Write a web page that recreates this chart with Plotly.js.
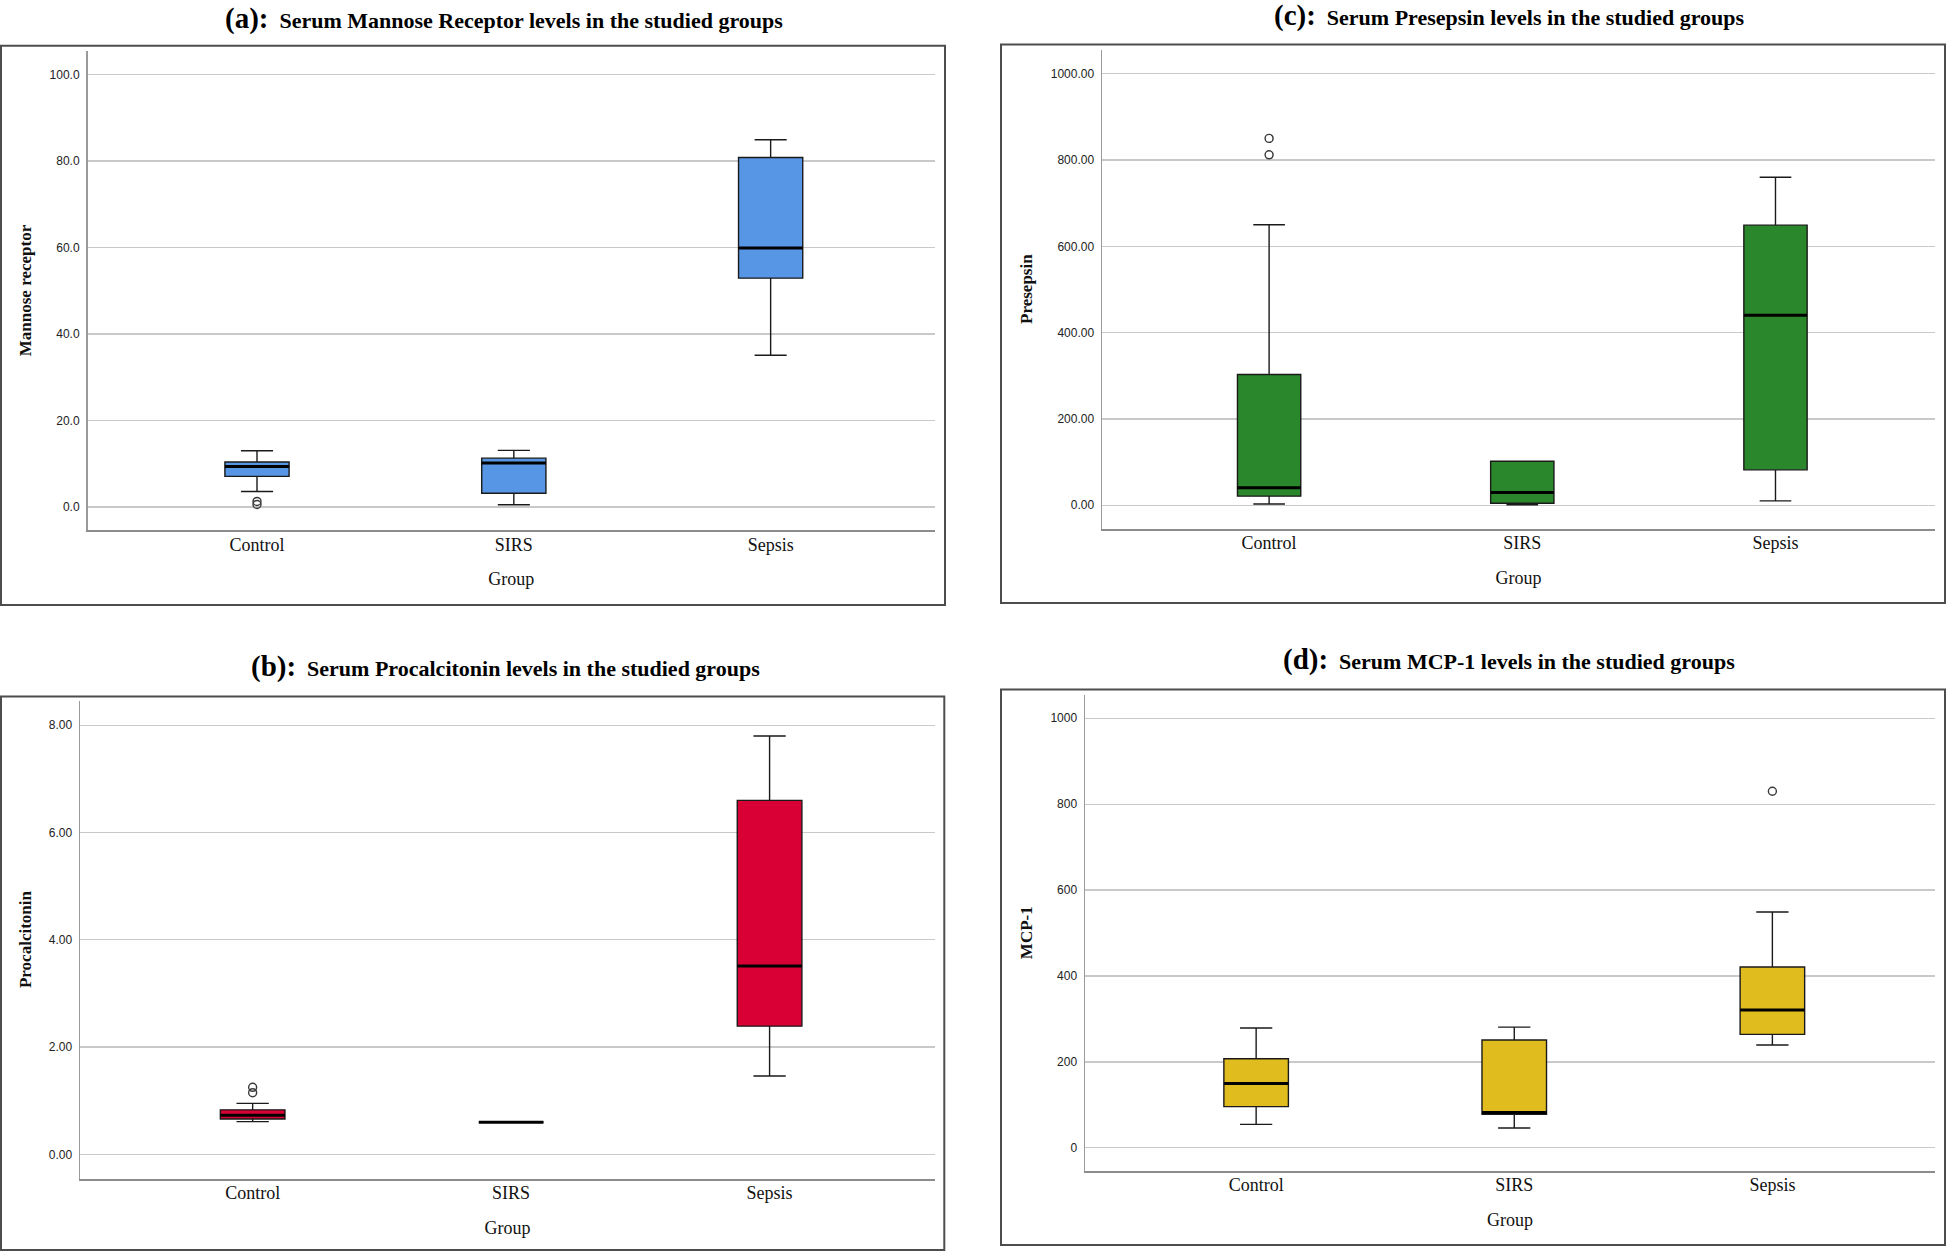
<!DOCTYPE html>
<html>
<head>
<meta charset="utf-8">
<script src="https://cdn.plot.ly/plotly-3.0.1.min.js"></script>
<style>
  html, body { margin: 0; padding: 0; background: #ffffff; }
  #chart { width: 1952px; height: 1252px; }
</style>
</head>
<body>
<div id="chart"></div>
<script>
// ---------------- DATA ----------------
const groups = ["Control", "SIRS", "Sepsis"];

// (a) Serum Mannose Receptor
const mrLower  = [3.6, 0.55, 35.1];
const mrQ1     = [7.1, 3.2, 52.9];
const mrMedian = [9.4, 10.2, 59.9];
const mrQ3     = [10.4, 11.3, 80.8];
const mrUpper  = [13.0, 13.1, 84.9];
const mrOutGroup = ["Control", "Control"];
const mrOutVal   = [0.6, 1.3];

// (b) Serum Procalcitonin
const pctLower  = [0.61, 0.60, 1.46];
const pctQ1     = [0.66, 0.60, 2.39];
const pctMedian = [0.73, 0.60, 3.51];
const pctQ3     = [0.83, 0.60, 6.60];
const pctUpper  = [0.95, 0.60, 7.80];
const pctOutGroup = ["Control", "Control"];
const pctOutVal   = [1.15, 1.25];

// (c) Serum Presepsin
const psLower  = [2.8, 0.9, 10];
const psQ1     = [21, 4.6, 82];
const psMedian = [40.5, 29.5, 440];
const psQ3     = [303, 102, 649];
const psUpper  = [650, 102, 760];
const psOutGroup = ["Control", "Control"];
const psOutVal   = [812, 850];

// (d) Serum MCP-1
const mcpLower  = [54.5, 46, 239.5];
const mcpQ1     = [96, 78, 264];
const mcpMedian = [150, 82, 321];
const mcpQ3     = [207.5, 251, 421];
const mcpUpper  = [279, 281, 549];
const mcpOutGroup = ["Sepsis"];
const mcpOutVal   = [830];

// tick labels
const tickMR  = [0, 20, 40, 60, 80, 100];
const tickPCT = [0, 2, 4, 6, 8];
const tickPS  = [0, 200, 400, 600, 800, 1000];
const tickMCP = [0, 200, 400, 600, 800, 1000];

// ---------------- STYLE ----------------
const W = 1952, H = 1252;
const BOXW = 0.25;
const serif = "Liberation Serif, Times New Roman, serif";
const sans = "Liberation Sans, Arial, sans-serif";

const pos = groups.map((g, i) => i);
const idx = g => groups.indexOf(g);

function panel(ax, color, lo, q1, med, q3, up, outG, outV) {
  const xa = "x" + ax, ya = "y" + ax;
  const traces = [];
  traces.push({
    type: "box", xaxis: xa, yaxis: ya,
    x: pos, q1: q1, median: med, q3: q3, lowerfence: lo, upperfence: up,
    width: BOXW, whiskerwidth: 0.5,
    fillcolor: color,
    line: { color: "#1a1a1a", width: 1.4 },
    boxpoints: false, hoverinfo: "skip"
  });
  // thick median lines
  const mx = [], my = [];
  med.forEach((m, i) => { mx.push(i - BOXW / 2, i + BOXW / 2, null); my.push(m, m, null); });
  traces.push({
    type: "scatter", mode: "lines", xaxis: xa, yaxis: ya,
    x: mx, y: my, line: { color: "#000000", width: 3 }, hoverinfo: "skip"
  });
  if (outG.length) {
    traces.push({
      type: "scatter", mode: "markers", xaxis: xa, yaxis: ya,
      x: outG.map(idx), y: outV,
      marker: { symbol: "circle-open", size: 8, color: "#3a3a3a", line: { width: 1.4, color: "#3a3a3a" } },
      hoverinfo: "skip"
    });
  }
  return traces;
}

const data = [].concat(
  panel("", "#5796E5", mrLower, mrQ1, mrMedian, mrQ3, mrUpper, mrOutGroup, mrOutVal),
  panel("2", "#D80034", pctLower, pctQ1, pctMedian, pctQ3, pctUpper, pctOutGroup, pctOutVal),
  panel("3", "#2B872B", psLower, psQ1, psMedian, psQ3, psUpper, psOutGroup, psOutVal),
  panel("4", "#E1BC1E", mcpLower, mcpQ1, mcpMedian, mcpQ3, mcpUpper, mcpOutGroup, mcpOutVal)
);

function xaxis(anchor, d0, d1, r) {
  return {
    anchor: anchor, domain: [d0 / W, d1 / W], range: r,
    tickvals: pos, ticktext: groups, ticks: "", showgrid: false, zeroline: false,
    showline: true, linecolor: "#8c8c8c", linewidth: 2,
    tickfont: { family: serif, size: 18, color: "#111" },
    ticklabelstandoff: -3,
    title: { text: "Group", font: { family: serif, size: 18, color: "#111" }, standoff: 19 },
    fixedrange: true
  };
}
function yaxis(anchor, top, bot, r, tv, fmt, title) {
  return {
    anchor: anchor, domain: [1 - bot / H, 1 - top / H], range: r,
    tickvals: tv, tickformat: fmt, ticks: "", showgrid: true, gridcolor: "#c9c9c9", gridwidth: 1.3,
    zeroline: false, showline: true, linecolor: "#9a9a9a", linewidth: 1.5,
    tickfont: { family: sans, size: 12, color: "#222" },
    ticklabelstandoff: 4,
    title: { text: "<b>" + title + "</b>", font: { family: serif, size: 17, color: "#111" }, standoff: 13 },
    fixedrange: true
  };
}

function frame(x0, y0, x1, y1) {
  return { type: "rect", xref: "paper", yref: "paper",
    x0: x0 / W, x1: x1 / W, y0: 1 - y1 / H, y1: 1 - y0 / H,
    line: { color: "#4d4d4d", width: 2 }, fillcolor: "rgba(0,0,0,0)", layer: "below" };
}
function ttl(label, text, cx, cy) {
  return { xref: "paper", yref: "paper", x: cx / W, y: 1 - cy / H, xanchor: "center", yanchor: "middle",
    showarrow: false,
    text: "<b><span style='font-size:29px'>" + label + "</span>\u00a0\u00a0" + text + "</b>",
    font: { family: serif, size: 22, color: "#000" } };
}

const layout = {
  width: W, height: H, margin: { l: 0, r: 0, t: 0, b: 0 },
  paper_bgcolor: "#ffffff", plot_bgcolor: "#ffffff", showlegend: false,
  xaxis:  xaxis("y",  87.5, 935, [-0.66, 2.64]),
  yaxis:  yaxis("x",  51, 530, [-5.3, 105.4], tickMR, ".1f", "Mannose receptor"),
  xaxis2: xaxis("y2", 80, 935, [-0.668, 2.64]),
  yaxis2: yaxis("x2", 700.6, 1178.5, [-0.45, 8.46], tickPCT, ".2f", "Procalcitonin"),
  xaxis3: xaxis("y3", 1102, 1935, [-0.66, 2.63]),
  yaxis3: yaxis("x3", 49.7, 528.6, [-54.2, 1055.6], tickPS, ".2f", "Presepsin"),
  xaxis4: xaxis("y4", 1085, 1935, [-0.663, 2.63]),
  yaxis4: yaxis("x4", 694.6, 1170.8, [-53.5, 1055], tickMCP, "d", "MCP-1"),
  shapes: [
    frame(1, 45.7, 945, 605),
    frame(1001, 44.5, 1945, 603),
    frame(1, 696.6, 944.3, 1250),
    frame(1001, 689.4, 1945, 1245)
  ],
  annotations: [
    ttl("(a):", "Serum Mannose Receptor levels in the studied groups", 504, 18),
    ttl("(c):", "Serum Presepsin levels in the studied groups", 1509, 16),
    ttl("(b):", "Serum Procalcitonin levels in the studied groups", 505, 666),
    ttl("(d):", "Serum MCP-1 levels in the studied groups", 1509, 659)
  ]
};

Plotly.newPlot("chart", data, layout, { staticPlot: true, displayModeBar: false });
</script>
</body>
</html>
